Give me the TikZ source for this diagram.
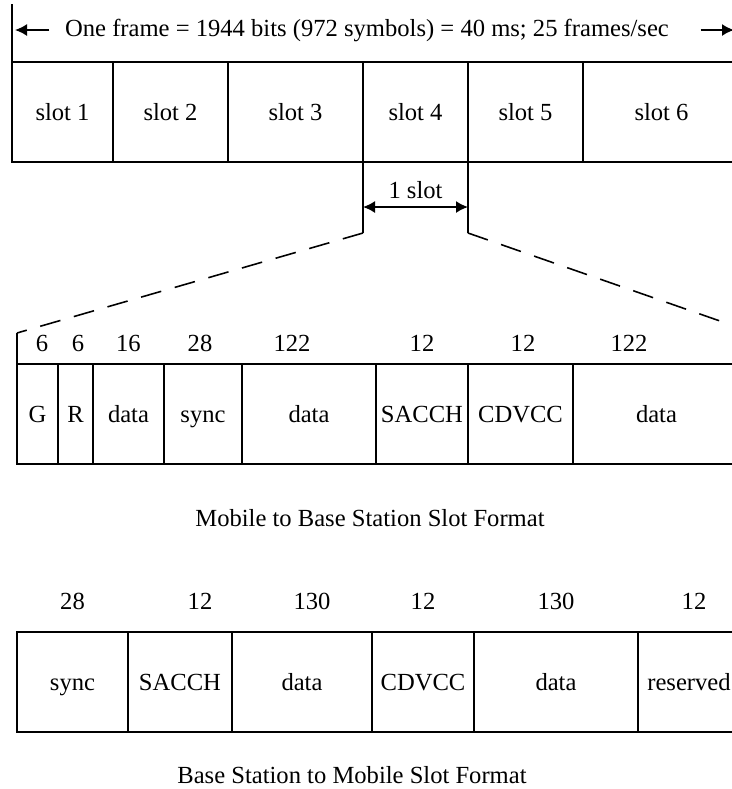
\documentclass[tikz,border=0pt]{standalone}
\usepackage{fontspec}
\setmainfont{Liberation Serif}
\usetikzlibrary{positioning,arrows.meta}

\begin{document}
\begin{tikzpicture}[
  font=\fontsize{14}{17}\selectfont,
  line width=0.9pt,
  slotcell/.style={draw, minimum height=2cm, inner sep=0pt, outer sep=0pt,
    text height=1.1em, text depth=0.1em},
  bits/.style={inner sep=1pt},
  cut/.style={dash pattern=on 0.42cm off 0.28cm},
  >={Latex[length=2.4mm,width=2.4mm]}
]
\useasboundingbox (0,0) rectangle (14.64,-15.78);
\clip (0,0) rectangle (14.64,-15.78);

% one frame of six slots
\node (frm) at (7.34,-0.6) {One frame = 1944 bits (972 symbols) = 40 ms; 25 frames/sec};
\coordinate (fl) at (0.3,-0.6);
\coordinate (fr) at (14.68,-0.6);
\coordinate (ftop) at (0.24,-0.08);
\node[slotcell, minimum width=2.02cm, anchor=north west] (s1) at (0.24,-1.24) {slot 1};
\node[slotcell, minimum width=2.3cm, right=0pt of s1] (s2) {slot 2};
\node[slotcell, minimum width=2.7cm, right=0pt of s2] (s3) {slot 3};
\node[slotcell, minimum width=2.1cm, right=0pt of s3] (s4) {slot 4};
\node[slotcell, minimum width=2.3cm, right=0pt of s4] (s5) {slot 5};
\node[slotcell, minimum width=3.14cm, right=0pt of s5] (s6) {slot 6};
\draw (s1.north west) -- (ftop);
\draw[->] ([xshift=-0.18cm]frm.west) -- (fl);
\draw[->] ([xshift=0.5cm]frm.east) -- (fr);

% slot 4 blown up
\coordinate[below=1.42cm of s4.south west] (dl);
\coordinate[below=1.42cm of s4.south east] (dr);
\draw (s4.south west) -- (dl);
\draw (s4.south east) -- (dr);
\draw[<->] ([yshift=-0.9cm]s4.south west) -- node[above, inner sep=4pt] (sl) {1 slot} ([yshift=-0.9cm]s4.south east);

% mobile to base station
\coordinate (mtop) at (0.34,-6.66);
\coordinate (mend) at (14.8,-6.56);
\node[slotcell, minimum width=0.82cm, anchor=north west] (mg) at (0.34,-7.28) {G};
\node[slotcell, minimum width=0.7cm, right=0pt of mg] (mr) {R};
\node[slotcell, minimum width=1.42cm, right=0pt of mr] (md1) {data};
\node[slotcell, minimum width=1.56cm, right=0pt of md1] (msy) {sync};
\node[slotcell, minimum width=2.68cm, right=0pt of msy] (md2) {data};
\node[slotcell, minimum width=1.84cm, right=0pt of md2] (msa) {SACCH};
\node[slotcell, minimum width=2.1cm, right=0pt of msa] (mcd) {CDVCC};
\node[slotcell, minimum width=3.34cm, right=0pt of mcd] (md3) {data};
\node[bits, above=0.2cm of mg, xshift=0.09cm] (mgn) {6};
\node[bits, above=0.2cm of mr, xshift=0.05cm] (mrn) {6};
\node[bits, above=0.2cm of md1] (md1n) {16};
\node[bits, above=0.2cm of msy, xshift=-0.06cm] (msyn) {28};
\node[bits, above=0.2cm of md2, xshift=-0.34cm] (md2n) {122};
\node[bits, above=0.2cm of msa] (msan) {12};
\node[bits, above=0.2cm of mcd, xshift=0.05cm] (mcdn) {12};
\node[bits, above=0.2cm of md3, xshift=-0.55cm] (md3n) {122};
\draw (mg.north west) -- (mtop);
\draw[cut] (dl) -- (mtop);
\draw[cut] (dr) -- (mend);
\node (mcap) at (7.4,-10.36) {Mobile to Base Station Slot Format};

% base station to mobile
\node[slotcell, minimum width=2.22cm, anchor=north west] (bsy) at (0.34,-12.64) {sync};
\node[slotcell, minimum width=2.08cm, right=0pt of bsy] (bsa) {SACCH};
\node[slotcell, minimum width=2.8cm, right=0pt of bsa] (bd1) {data};
\node[slotcell, minimum width=2.04cm, right=0pt of bd1] (bcd) {CDVCC};
\node[slotcell, minimum width=3.28cm, right=0pt of bcd] (bd2) {data};
\node[slotcell, minimum width=2.04cm, right=0pt of bd2] (brs) {reserved};
\node[bits, above=0.4cm of bsy] (bsyn) {28};
\node[bits, above=0.4cm of bsa, xshift=0.4cm] (bsan) {12};
\node[bits, above=0.4cm of bd1, xshift=0.2cm] (bd1n) {130};
\node[bits, above=0.4cm of bcd] (bcdn) {12};
\node[bits, above=0.4cm of bd2] (bd2n) {130};
\node[bits, above=0.4cm of brs, xshift=0.1cm] (brsn) {12};
\node (bcap) at (7.04,-15.5) {Base Station to Mobile Slot Format};
\end{tikzpicture}
\end{document}
